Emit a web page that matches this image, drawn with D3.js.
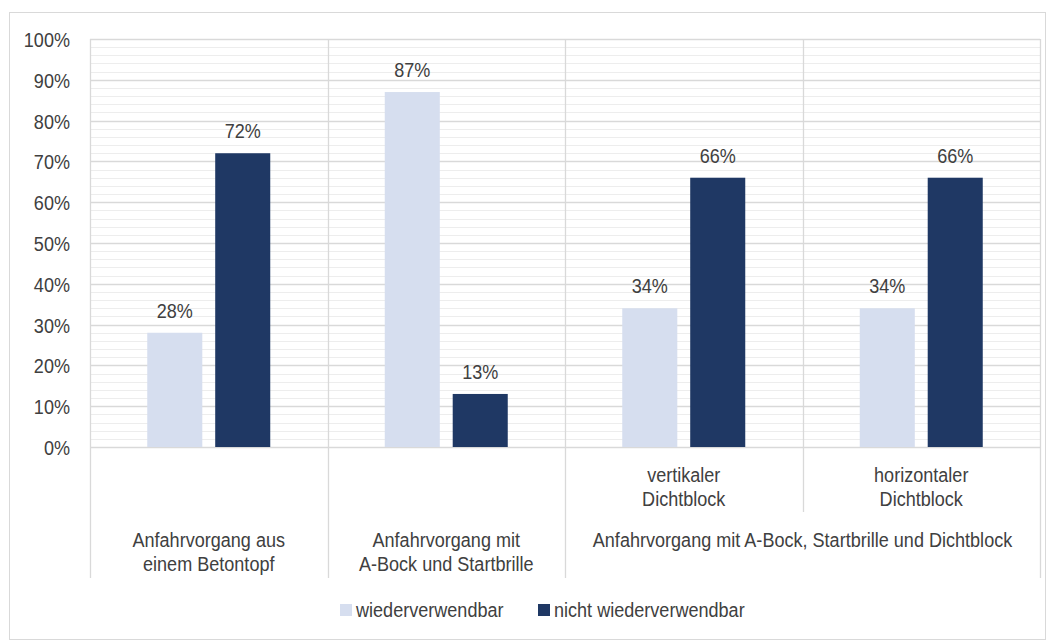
<!DOCTYPE html>
<html>
<head>
<meta charset="utf-8">
<script src="https://cdn.jsdelivr.net/npm/d3@7"></script>
<style>
  html, body { margin: 0; padding: 0; background: #fff; }
  svg text { font-family: "Liberation Sans", Arial, sans-serif; fill: #404040; }
</style>
</head>
<body>
<svg id="chart" width="1054" height="642"></svg>
<script>
// Leaf categories (one per bar pair)
const categories = ["c1", "c2", "c3", "c4"];
// Labels in the lower (leaf) row; empty where the group label covers the column
const leafLabels = [[], [], ["vertikaler", "Dichtblock"], ["horizontaler", "Dichtblock"]];
// Outer groups: label lines and how many leaf columns they span
const groupLabels = [
  ["Anfahrvorgang aus", "einem Betontopf"],
  ["Anfahrvorgang mit", "A-Bock und Startbrille"],
  ["Anfahrvorgang mit A-Bock, Startbrille und Dichtblock"]
];
const groupSpans = [1, 1, 2];
const seriesNames = ["wiederverwendbar", "nicht wiederverwendbar"];
const wiederverwendbar = [28, 87, 34, 34];
const nichtWiederverwendbar = [72, 13, 66, 66];
const yTicks = [0, 10, 20, 30, 40, 50, 60, 70, 80, 90, 100];
const colors = ["#d6deef", "#1f3864"];

const FONT = 21;        // text size
const SQUEEZE = 0.86;   // horizontal condensing of all text
const LINE = 24;        // line spacing of wrapped labels

const svg = d3.select("#chart");
const plot = { left: 90, right: 1040, top: 39, bottom: 447 };

// Condensed text placed with its anchor at (x, y)
function label(parent, x, y, lines, anchor) {
  const g = parent.append("g").attr("transform", `translate(${x},${y}) scale(${SQUEEZE},1)`);
  const t = g.append("text").attr("text-anchor", anchor || "middle").attr("font-size", FONT);
  lines.forEach((line, i) => {
    t.append("tspan").attr("x", 0).attr("dy", i === 0 ? 0 : LINE).text(line);
  });
  return t;
}

// Outer chart frame
svg.append("rect")
  .attr("x", 9.5).attr("y", 12.5).attr("width", 1036).attr("height", 627)
  .attr("fill", "none").attr("stroke", "#d9d9d9").attr("stroke-width", 1);

const x = d3.scaleBand().domain(categories).range([plot.left, plot.right]).padding(0);
const inner = d3.scaleBand().domain([0, 1]).range([0, 123]).paddingInner(0.19);
const y = d3.scaleLinear().domain([0, 100]).range([plot.bottom, plot.top]);

// Minor gridlines every 2 %
const minor = d3.range(0, 101, 2).filter(v => v % 10 !== 0);
svg.append("g").selectAll("line").data(minor).join("line")
  .attr("x1", plot.left).attr("x2", plot.right)
  .attr("y1", d => Math.round(y(d)) + 0.5).attr("y2", d => Math.round(y(d)) + 0.5)
  .attr("stroke", "#ededed").attr("stroke-width", 1);

// Major gridlines every 10 %
svg.append("g").selectAll("line").data(yTicks).join("line")
  .attr("x1", plot.left).attr("x2", plot.right)
  .attr("y1", d => Math.round(y(d)) + 0.5).attr("y2", d => Math.round(y(d)) + 0.5)
  .attr("stroke", "#d9d9d9").attr("stroke-width", 1.3);

// Y axis labels
const yAxis = d3.axisLeft(y).tickValues(yTicks).tickFormat(d => d + "%").tickSize(0).tickPadding(0);
const yg = svg.append("g").attr("transform", `translate(70,0)`).call(yAxis);
yg.select(".domain").remove();
yg.selectAll("text")
  .attr("font-size", FONT).attr("fill", "#404040")
  .attr("font-family", "Liberation Sans, Arial, sans-serif")
  .attr("x", 0).attr("dy", null).attr("y", 7.5)
  .attr("transform", `scale(${SQUEEZE},1)`);

// Vertical category separators
const boundaries = d3.range(categories.length + 1).map(i =>
  i < categories.length ? x(categories[i]) : plot.right);
// group borders run full height, inner leaf borders stop at the leaf row
const groupEdges = new Set([0]);
let acc = 0;
groupSpans.forEach(s => { acc += s; groupEdges.add(acc); });
svg.append("g").selectAll("line").data(boundaries).join("line")
  .attr("x1", d => Math.round(d) + 0.5).attr("x2", d => Math.round(d) + 0.5)
  .attr("y1", plot.top)
  .attr("y2", (d, i) => groupEdges.has(i) ? 578 : 512)
  .attr("stroke", "#d9d9d9").attr("stroke-width", 1.3);

// Bars with value labels
const series = [wiederverwendbar, nichtWiederverwendbar];
const groupOffset = (x.bandwidth() - 123) / 2;
series.forEach((vals, si) => {
  const g = svg.append("g");
  g.selectAll("rect").data(vals).join("rect")
    .attr("x", (d, i) => x(categories[i]) + groupOffset + inner(si))
    .attr("y", d => y(d))
    .attr("width", inner.bandwidth())
    .attr("height", d => y(0) - y(d))
    .attr("fill", colors[si]);
  vals.forEach((d, i) => {
    label(g, x(categories[i]) + groupOffset + inner(si) + inner.bandwidth() / 2, y(d) - 15, [d + "%"]);
  });
});

// Leaf row labels
categories.forEach((c, i) => {
  if (leafLabels[i].length) label(svg, x(c) + x.bandwidth() / 2, 482, leafLabels[i]);
});

// Group row labels
let start = 0;
groupLabels.forEach((lines, gi) => {
  const x0 = boundaries[start];
  const x1 = boundaries[start + groupSpans[gi]];
  label(svg, (x0 + x1) / 2, 547, lines);
  start += groupSpans[gi];
});

// Legend
const legendX = [340, 538];
seriesNames.forEach((name, i) => {
  svg.append("rect").attr("x", legendX[i]).attr("y", 604).attr("width", 12).attr("height", 12)
    .attr("fill", colors[i]);
  label(svg, legendX[i] + 16, 617, [name], "start");
});
</script>
</body>
</html>
